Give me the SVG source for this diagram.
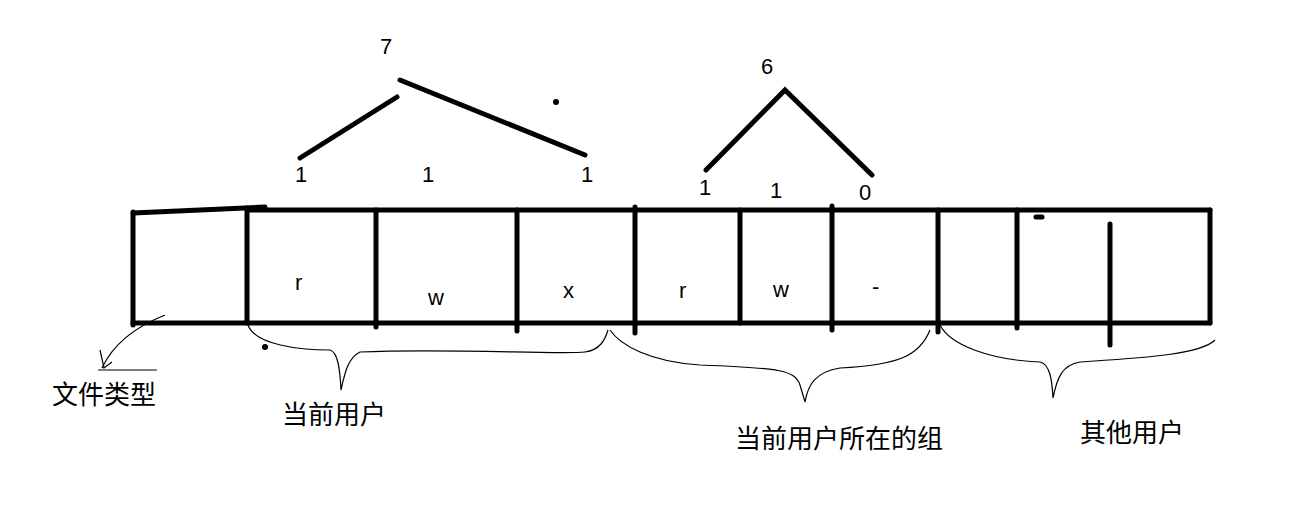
<svg xmlns="http://www.w3.org/2000/svg" width="1311" height="516" viewBox="0 0 1311 516">
<style>
.b{stroke:#000;stroke-width:5;fill:none;stroke-linecap:round}
.t{stroke:#000;stroke-width:1.2;fill:none}
text{font-family:"Liberation Sans","Noto Sans CJK SC",sans-serif;font-size:22px;fill:#000}
.l{font-size:26px}
</style>
<rect width="1311" height="516" fill="#fff"/>
<g id="table" class="b">
<path d="M133,213 L265,207 M248,210 L1210,210 M133,323 L1210,323"/>
<path d="M133,212V325 M247,208V323 M376,210V327 M517,210V331 M635,207V333 M740,210V323 M832,206V330 M938,210V332 M1017,210V328 M1110,224V345 M1210,210V323"/>
<path d="M1036,217h6"/>
</g>
<g id="letters">
<text x="295" y="290">r</text><text x="428" y="305">w</text><text x="563" y="298">x</text>
<text x="679" y="298">r</text><text x="773" y="297">w</text><text x="872" y="294">-</text>
</g>
<g id="bits">
<text x="295" y="182">1</text><text x="422" y="182">1</text><text x="581" y="182">1</text>
<text x="699" y="195">1</text><text x="770" y="198">1</text><text x="859" y="200">0</text>
<text x="380" y="54">7</text><text x="761" y="74">6</text>
</g>
<g id="connectors" class="b">
<path d="M300,158 L397,97 M400,80 L585,155 M706,170 L785,90 L872,175"/>
</g>
<circle cx="556" cy="102" r="3"/>
<circle cx="265" cy="347" r="3"/>
<g id="braces" class="t">
<path d="M248,325 C255,345 300,350 330,350 C338,352 340,370 341,390 C345,372 348,358 360,352 C450,348 560,355 585,352 C600,350 605,340 608,330"/>
<path d="M610,330 C620,345 650,362 700,365 C780,368 795,370 800,385 L805,402 C808,385 815,372 840,368 C900,365 920,355 930,330"/>
<path d="M940,325 C950,345 990,360 1040,362 C1050,364 1052,380 1053,398 C1057,378 1062,365 1080,362 C1140,358 1200,355 1215,340"/>
<path d="M165,315 C140,325 115,340 102,368 M100,350 L104,368 L112,362 M98,370 H157"/>
</g>
<g id="labels">
<text class="l" x="52" y="404">文件类型</text>
<text class="l" x="282" y="424">当前用户</text>
<text class="l" x="735" y="448">当前用户所在的组</text>
<text class="l" x="1080" y="442">其他用户</text>
</g>
</svg>
